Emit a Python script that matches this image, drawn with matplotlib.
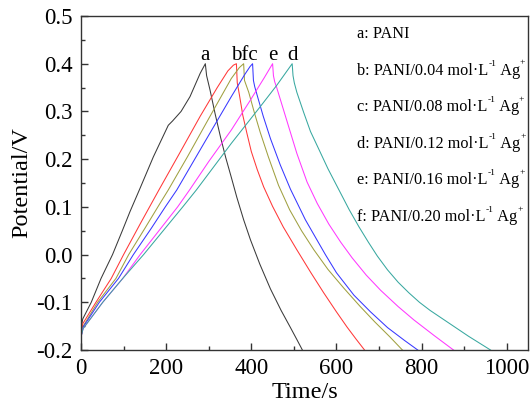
import matplotlib
matplotlib.use("Agg")
import matplotlib.pyplot as plt
from matplotlib.ticker import MultipleLocator, FuncFormatter

plt.rcParams['font.family'] = ['Liberation Serif', 'DejaVu Serif']
plt.rcParams['axes.unicode_minus'] = False

# Data (time in s, potential in V)
t_a = [0, 4, 24, 47, 74, 97, 115, 137, 170, 205, 215, 225, 235, 256, 280, 292,
       295, 303, 315, 328, 340, 353, 366, 382, 398, 420, 445, 470, 492, 507, 520]
v_a = [-0.155, -0.135, -0.10, -0.05, 0.0, 0.05, 0.09, 0.1355, 0.205, 0.271, 0.28, 0.29, 0.30, 0.331, 0.38, 0.40,
       0.375, 0.345, 0.295, 0.245, 0.203, 0.162, 0.12, 0.073, 0.031, -0.02, -0.072, -0.117, -0.153, -0.178, -0.2]

t_b = [0, 4, 35, 71, 100, 140, 183, 230, 280, 320, 345, 358, 365,
       367, 372, 380, 390, 400, 414, 429, 450, 475, 507, 540, 570, 600, 625, 646, 666]
v_b = [-0.17, -0.145, -0.10, -0.05, 0.0, 0.066, 0.1355, 0.21, 0.29, 0.35, 0.385, 0.397, 0.40,
       0.36, 0.335, 0.292, 0.253, 0.216, 0.178, 0.142, 0.101, 0.058, 0.01, -0.038, -0.08, -0.12, -0.152, -0.177, -0.2]

t_f = [0, 5, 39, 82, 112, 150, 186, 205, 250, 300, 353, 372, 382,
       384, 388, 394, 407, 421, 440, 464, 490, 518, 547, 580, 617, 655, 690, 725, 755]
v_f = [-0.172, -0.15, -0.10, -0.05, 0.0, 0.055, 0.108, 0.1355, 0.205, 0.285, 0.369, 0.392, 0.40,
       0.365, 0.355, 0.340, 0.298, 0.256, 0.205, 0.145, 0.094, 0.05, 0.01, -0.031, -0.07, -0.108, -0.141, -0.172, -0.2]

t_c = [0, 5, 43, 88, 123, 165, 198, 225, 290, 353, 385, 397, 403,
       405, 408, 415, 428, 445, 468, 492, 527, 574, 600, 641, 680, 720, 760, 791]
v_c = [-0.172, -0.152, -0.10, -0.05, 0.0, 0.055, 0.10, 0.1355, 0.235, 0.331, 0.378, 0.394, 0.40,
       0.365, 0.352, 0.33, 0.29, 0.243, 0.188, 0.137, 0.073, 0.0, -0.038, -0.085, -0.12, -0.153, -0.18, -0.2]

t_e = [0, 5, 51, 98, 139, 183, 227, 255, 300, 353, 398, 430, 450,
       452, 455, 460, 484, 507, 531, 555, 582, 610, 637, 670, 704, 745, 782, 830, 875]
v_e = [-0.172, -0.155, -0.10, -0.05, 0.0, 0.05, 0.10, 0.1355, 0.195, 0.261, 0.324, 0.37, 0.40,
       0.375, 0.362, 0.349, 0.279, 0.212, 0.152, 0.107, 0.064, 0.026, -0.007, -0.043, -0.075, -0.109, -0.137, -0.17, -0.2]

t_d = [0, 5, 51, 98, 147, 193, 239, 271, 353, 421, 460, 496,
       498, 501, 507, 523, 539, 558, 580, 605, 630, 653, 675, 696, 720, 745, 770, 795, 820, 860, 910, 962]
v_d = [-0.172, -0.155, -0.10, -0.05, 0.0, 0.05, 0.10, 0.1355, 0.233, 0.31, 0.355, 0.40,
       0.375, 0.36, 0.34, 0.298, 0.258, 0.222, 0.18, 0.137, 0.094, 0.058, 0.026, -0.003,
       -0.032, -0.058, -0.08, -0.10, -0.117, -0.141, -0.171, -0.2]

legend_main = ["a: PANI",
               "b: PANI/0.04 mol\u00b7L",
               "c: PANI/0.08 mol\u00b7L",
               "d: PANI/0.12 mol\u00b7L",
               "e: PANI/0.16 mol\u00b7L",
               "f: PANI/0.20 mol\u00b7L"]
legend_has_sup = [False, True, True, True, True, True]

peak_labels = ["a", "bfc", "e", "d"]
peak_label_t = [292, 384, 450, 496]

W, H = 532, 407
fig = plt.figure(figsize=(W / 100, H / 100), dpi=100)
ax = fig.add_axes([0.1523, 0.140, 0.8402, 0.8207])

series = [(t_a, v_a, '#3a3a3a'), (t_b, v_b, '#ff3838'), (t_f, v_f, '#a0a040'),
          (t_c, v_c, '#3838ff'), (t_e, v_e, '#ff38ff'), (t_d, v_d, '#38a8a0')]
for t, v, c in series:
    ax.plot(t, v, color=c, lw=0.75)

ax.set_xlim(0, 1050)
ax.set_ylim(-0.2, 0.5)
ax.xaxis.set_major_locator(MultipleLocator(200))
ax.xaxis.set_minor_locator(MultipleLocator(100))
ax.yaxis.set_major_locator(MultipleLocator(0.1))
ax.yaxis.set_minor_locator(MultipleLocator(0.05))
ax.yaxis.set_major_formatter(FuncFormatter(lambda v, p: f"{round(v, 2) + 0.0:.1f}"))
ax.tick_params(which='both', direction='in', labelsize=16.5, color='#333333')
ax.tick_params(which='major', length=5, width=1, pad=6)
ax.tick_params(which='minor', length=3, width=1)
for s in ax.spines.values():
    s.set_color('#333333')
    s.set_linewidth(1.0)

ax.set_xlabel("Time/s", fontsize=17.5, labelpad=2)
ax.set_ylabel("Potential/V", fontsize=17.5, labelpad=3)

for lab, tx in zip(peak_labels, peak_label_t):
    ax.text(tx, 0.407, lab, fontsize=15, ha='center', va='baseline')

# text block at upper right, built piece by piece (tiny superscripts)
renderer = fig.canvas.get_renderer()
main_fs, sup_fs = 11.7, 6.8
for i, (txt, sup) in enumerate(zip(legend_main, legend_has_sup)):
    base = 38 + 36.6 * i          # baseline in pixels from top
    x = 357.0
    pieces = [(txt, main_fs, 0.0)]
    if sup:
        pieces += [("-1", sup_fs, 9.0), (" Ag", main_fs, 0.0), ("+", sup_fs, 10.0)]
    for s, fs, rise in pieces:
        tt = fig.text(x / W, 1 - (base - rise) / H, s, fontsize=fs,
                      ha='left', va='baseline')
        bb = tt.get_window_extent(renderer)
        x += bb.width + (0.5 if rise else 0.0)

fig.savefig("out.png", dpi=100)
